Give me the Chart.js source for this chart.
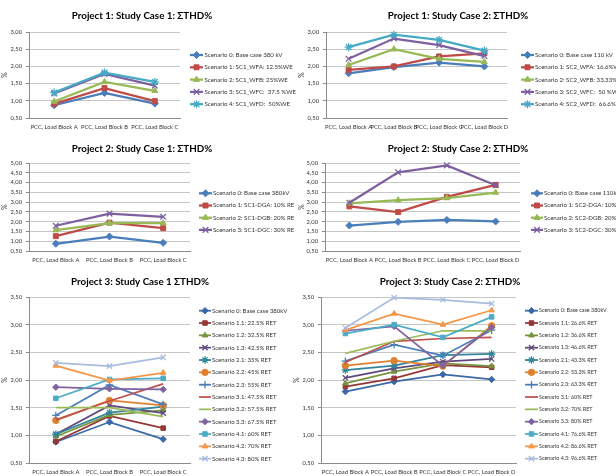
<!DOCTYPE html>
<html><head><meta charset="utf-8">
<script src="https://cdn.jsdelivr.net/npm/chart.js"></script>
<style>
html,body{margin:0;padding:0;background:#fff;width:616px;height:476px;overflow:hidden;position:relative}
canvas{position:absolute}
</style></head><body>
<script>
// ===== DATA =====
const catsABC  = ['PCC, Load Block A','PCC, Load Block B','PCC, Load Block C'];
const catsABCD = ['PCC, Load Block A','PCC, Load Block B','PCC, Load Block C','PCC, Load Block D'];

const yTicks1 = [0.5,1.0,1.5,2.0,2.5,3.0];
const yTicks2 = [0.5,1.0,1.5,2.0,2.5,3.0,3.5,4.0,4.5,5.0];
const yTicks3 = [0.5,1.0,1.5,2.0,2.5,3.0,3.5];

// Project 1, Study Case 1
const p1Title = 'Project 1: Study Case 1: ΣTHD%';
const p1Names = ['Scenario 0: Base case 380 kV','Scenario 1: SC1_WFA: 12.5%WE','Scenario 2: SC1_WFB: 25%WE','Scenario 3: SC1_WFC:  37.5 %WE','Scenario 4: SC1_WFD:  50%WE'];
const p1S0 = [0.87,1.23,0.92];
const p1S1 = [0.91,1.37,0.99];
const p1S2 = [0.98,1.55,1.29];
const p1S3 = [1.21,1.78,1.44];
const p1S4 = [1.24,1.82,1.55];

// Project 1, Study Case 2
const p2Title = 'Project 1: Study Case 2: ΣTHD%';
const p2Names = ['Scenario 0: Base case 110 kV','Scenario 1: SC2_WFA: 16.6%WE','Scenario 2: SC2_WFB: 33.33%WE','Scenario 3: SC2_WFC:  50 %WE','Scenario 4: SC2_WFD:  66.6%WE'];
const p2S0 = [1.80,1.98,2.11,2.00];
const p2S1 = [1.90,2.00,2.29,2.38];
const p2S2 = [2.04,2.50,2.22,2.13];
const p2S3 = [2.22,2.81,2.62,2.30];
const p2S4 = [2.56,2.92,2.77,2.46];

// Project 2, Study Case 1
const p3Title = 'Project 2: Study Case 1: ΣTHD%';
const p3Names = ['Scenario 0: Base case 380kV','Scenario 1: SC1-DGA: 10% RE','Scenario 2: SC1-DGB: 20% RE','Scenario 3: SC1-DGC: 30% RE'];
const p3S0 = [0.87,1.24,0.92];
const p3S1 = [1.26,1.95,1.67];
const p3S2 = [1.57,1.92,1.92];
const p3S3 = [1.79,2.41,2.25];

// Project 2, Study Case 2
const p4Title = 'Project 2: Study Case 2: ΣTHD%';
const p4Names = ['Scenario 0: Base case 110kV','Scenario 1: SC2-DGA: 10% RE','Scenario 2: SC2-DGB: 20% RE','Scenario 3: SC2-DGC: 30% RE'];
const p4S0 = [1.80,1.99,2.09,2.01];
const p4S1 = [2.78,2.49,3.27,3.88];
const p4S2 = [2.94,3.10,3.21,3.49];
const p4S3 = [2.97,4.52,4.88,3.86];

// Project 3, Study Case 1
const p5Title = 'Project 3: Study Case 1 ΣTHD%';
const p5Names = ['Scenario 0: Base case 380kV','Scenario 1.1: 22.5% RET','Scenario 1.2: 32.5% RET','Scenario 1.3: 42.5% RET','Scenario 2.1: 35% RET','Scenario 2.2: 45% RET','Scenario 2.3: 55% RET','Scenario 3.1: 47.5% RET','Scenario 3.2: 57.5% RET','Scenario 3.3: 67.5% RET','Scenario 4.1: 60% RET','Scenario 4.2: 70% RET','Scenario 4.3: 80% RET'];
const p5S0  = [0.88,1.24,0.93];
const p5S11 = [0.89,1.35,1.13];
const p5S12 = [0.98,1.37,1.45];
const p5S13 = [1.02,1.54,1.40];
const p5S21 = [1.02,1.41,1.52];
const p5S22 = [1.27,1.63,1.54];
const p5S23 = [1.36,1.91,1.56];
const p5S31 = [1.28,1.62,1.93];
const p5S32 = [1.50,1.50,1.34];
const p5S33 = [1.87,1.84,1.83];
const p5S41 = [1.67,2.01,2.03];
const p5S42 = [2.26,1.99,2.13];
const p5S43 = [2.31,2.25,2.41];

// Project 3, Study Case 2
const p6Title = 'Project 3: Study Case 2: ΣTHD%';
const p6Names = ['Scenario 0: Base case 380kV','Scenario 1.1: 26.6% RET','Scenario 1.2: 36.6% RET','Scenario 1.3: 46.6% RET','Scenario 2.1: 43.3% RET','Scenario 2.2: 53.3% RET','Scenario 2.3: 63.3% RET','Scenario 3.1: 60% RET','Scenario 3.2: 70% RET','Scenario 3.3: 80% RET','Scenario 4.1: 76.6% RET','Scenario 4.2: 86.6% RET','Scenario 4.3: 96.6% RET'];
const p6S0  = [1.79,1.97,2.10,2.01];
const p6S11 = [1.88,2.03,2.27,2.23];
const p6S12 = [1.94,2.15,2.30,2.25];
const p6S13 = [2.04,2.21,2.33,2.38];
const p6S21 = [2.18,2.26,2.45,2.47];
const p6S22 = [2.26,2.35,2.25,2.98];
const p6S23 = [2.34,2.64,2.44,2.90];
const p6S31 = [2.32,2.70,2.75,2.77];
const p6S32 = [2.48,2.70,2.89,2.89];
const p6S33 = [2.89,2.97,2.26,2.95];
const p6S41 = [2.84,3.00,2.77,3.14];
const p6S42 = [2.90,3.20,3.00,3.26];
const p6S43 = [2.94,3.49,3.45,3.38];

// ===== STYLE =====
const colors5 = ['#4A7EBB','#BE4B48','#98B954','#7D60A0','#46AAC5'];
const markers5 = ['rectRot','rect','triangle','crossRot','star'];
const colors13 = ['#3B68A6','#953735','#77933C','#5F497A','#31859C','#E0802F','#4A7EBB','#C0504D','#9BBB59','#7F63A1','#4BACC6','#F79646','#A9BCE0'];
const markers13 = ['rectRot','rect','triangle','crossRot','star','circle','cross',null,null,'rectRot','rect','triangle','crossRot'];

const FONT = 'Lato, "Open Sans", sans-serif';
const TITLE_SIZE = 9.8;
const SMALL = 5.8;
const GRID = '#C6C6C6';
const AXIS = '#8C8C8C';
const TXT = '#333333';

function sideLegend(L) {
  return {
    id: 'sideLegend',
    afterDraw(chart) {
      const ctx = chart.ctx;
      ctx.save();
      chart.data.datasets.forEach((ds, i) => {
        const y = L.y0 + i * L.dy, x = L.x;
        ctx.strokeStyle = ds.borderColor; ctx.lineWidth = ds.borderWidth;
        ctx.beginPath(); ctx.moveTo(x, y); ctx.lineTo(x + L.len, y); ctx.stroke();
        if (ds.pointRadius > 0) {
          ctx.fillStyle = ds.pointBackgroundColor; ctx.strokeStyle = ds.pointBorderColor;
          ctx.lineWidth = ds.pointBorderWidth;
          Chart.helpers.drawPoint(ctx, {pointStyle: ds.pointStyle, radius: ds.pointRadius, borderWidth: ds.pointBorderWidth, rotation: 0}, x + L.len / 2, y);
        }
        ctx.fillStyle = TXT; ctx.font = L.size + 'px ' + FONT;
        ctx.textBaseline = 'middle'; ctx.textAlign = 'left';
        ctx.fillText(ds.label, x + L.len + L.gap, y);
      });
      ctx.restore();
    }
  };
}

function fmt(v) { return v.toFixed(2).replace('.', ','); }

function makePanel(p) {
  const b = p.box;
  const cv = document.createElement('canvas');
  cv.width = b.w; cv.height = b.h;
  cv.style.left = b.x + 'px'; cv.style.top = b.y + 'px';
  cv.style.width = b.w + 'px'; cv.style.height = b.h + 'px';
  document.body.appendChild(cv);
  const lh = TITLE_SIZE * 1.2;
  const padTop = p.titleY - b.y - lh / 2;
  const padBot = (p.area.t - b.y) - padTop - lh;
  const yAxisW = p.area.l - b.x;
  const xAxisH = b.y + b.h - p.area.b;
  const rightW = b.x + b.w - p.area.r;
  const datasets = p.series.map((vals, i) => {
    const m = p.markers[i];
    const stroked = (m === 'crossRot' || m === 'cross' || m === 'star');
    return {
      label: p.names[i], data: vals, order: -i, clip: false,
      borderColor: p.colors[i], backgroundColor: p.colors[i],
      borderWidth: p.lw, tension: 0,
      pointStyle: m || 'circle', pointRadius: m ? (stroked ? p.pr + 0.5 : p.pr) : 0,
      pointBackgroundColor: p.colors[i], pointBorderColor: p.colors[i],
      pointBorderWidth: stroked ? 1.3 : 1
    };
  });
  const lg = p.legend;
  new Chart(cv, {
    type: 'line',
    data: { labels: p.cats, datasets },
    plugins: [sideLegend({x: lg.x - b.x, y0: lg.y0 - b.y, dy: lg.dy, len: lg.len, gap: lg.gap, size: lg.size})],
    options: {
      responsive: false, animation: false, devicePixelRatio: 1,
      layout: { padding: 0 },
      plugins: {
        legend: { display: false }, tooltip: { enabled: false },
        title: { display: true, text: p.title, color: '#000',
          font: { family: FONT, size: TITLE_SIZE, weight: 'bold', lineHeight: 1.2 },
          padding: { top: padTop, bottom: padBot } }
      },
      scales: {
        x: {
          type: 'category', offset: true,
          grid: { display: false, drawTicks: false },
          border: { display: true, color: AXIS, width: 1 },
          ticks: { font: { family: FONT, size: SMALL }, color: TXT, padding: p.xPad, maxRotation: 0, minRotation: 0, autoSkip: false },
          afterFit: s => { s.height = xAxisH; }
        },
        y: {
          type: 'linear', position: 'left',
          min: p.yTicks[0], max: p.yTicks[p.yTicks.length - 1],
          grid: { color: GRID, lineWidth: 1, tickLength: 3, tickColor: AXIS },
          border: { display: true, color: AXIS, width: 1 },
          ticks: { font: { family: FONT, size: SMALL }, color: TXT, padding: 4, autoSkip: false, callback: v => fmt(v) },
          afterBuildTicks: s => { s.ticks = p.yTicks.map(v => ({ value: v })); },
          title: { display: true, text: '%', color: TXT, font: { family: FONT, size: SMALL + 1 },
            padding: { top: p.yTitleX - b.x - (SMALL + 1) * 0.6, bottom: 0 } },
          afterFit: s => { s.width = yAxisW; }
        },
        pad: {
          type: 'linear', position: 'right', display: true,
          grid: { display: false, drawTicks: false }, border: { display: false },
          ticks: { display: false },
          afterFit: s => { s.width = rightW; }
        }
      }
    }
  });
}

makePanel({ title: p1Title, cats: catsABC, names: p1Names, series: [p1S0,p1S1,p1S2,p1S3,p1S4], yTicks: yTicks1,
  colors: colors5, markers: markers5, lw: 2.25, pr: 3.5,
  box: {x: -20, y: 0, w: 324, h: 138}, titleY: 16, area: {l: 29, t: 32, r: 180, b: 118}, xPad: 5.5, yTitleX: 5,
  legend: {x: 190, y0: 55, dy: 12.3, len: 13, gap: 1.5, size: 6.1} });

makePanel({ title: p2Title, cats: catsABCD, names: p2Names, series: [p2S0,p2S1,p2S2,p2S3,p2S4], yTicks: yTicks1,
  colors: colors5, markers: markers5, lw: 2.25, pr: 3.5,
  box: {x: 296, y: 0, w: 324, h: 138}, titleY: 16, area: {l: 326, t: 32, r: 507, b: 118}, xPad: 5.5, yTitleX: 302,
  legend: {x: 521, y0: 55, dy: 12.3, len: 13, gap: 1, size: 6.1} });

makePanel({ title: p3Title, cats: catsABC, names: p3Names, series: [p3S0,p3S1,p3S2,p3S3], yTicks: yTicks2,
  colors: colors5, markers: markers5, lw: 2.25, pr: 3.5,
  box: {x: -20, y: 134, w: 324, h: 138}, titleY: 149, area: {l: 29, t: 163, r: 190, b: 251}, xPad: 5.5, yTitleX: 5,
  legend: {x: 199, y0: 193.3, dy: 12.2, len: 13, gap: 1, size: 6.1} });

makePanel({ title: p4Title, cats: catsABCD, names: p4Names, series: [p4S0,p4S1,p4S2,p4S3], yTicks: yTicks2,
  colors: colors5, markers: markers5, lw: 2.25, pr: 3.5,
  box: {x: 296, y: 134, w: 324, h: 138}, titleY: 149, area: {l: 325, t: 163, r: 520, b: 251}, xPad: 5.5, yTitleX: 302,
  legend: {x: 531, y0: 193.3, dy: 12.2, len: 12, gap: 1, size: 6.1} });

makePanel({ title: p5Title, cats: catsABC, names: p5Names,
  series: [p5S0,p5S11,p5S12,p5S13,p5S21,p5S22,p5S23,p5S31,p5S32,p5S33,p5S41,p5S42,p5S43], yTicks: yTicks3,
  colors: colors13, markers: markers13, lw: 1.75, pr: 3.2,
  box: {x: -24, y: 268, w: 328, h: 208}, titleY: 282, area: {l: 29, t: 297, r: 190, b: 463}, xPad: 6, yTitleX: 5,
  legend: {x: 199, y0: 310.7, dy: 12.33, len: 12, gap: 1, size: 6.0} });

makePanel({ title: p6Title, cats: catsABCD, names: p6Names,
  series: [p6S0,p6S11,p6S12,p6S13,p6S21,p6S22,p6S23,p6S31,p6S32,p6S33,p6S41,p6S42,p6S43], yTicks: yTicks3,
  colors: colors13, markers: markers13, lw: 1.75, pr: 3.2,
  box: {x: 280, y: 268, w: 340, h: 208}, titleY: 282, area: {l: 321, t: 297, r: 516, b: 463}, xPad: 6, yTitleX: 297,
  legend: {x: 525, y0: 310.7, dy: 12.33, len: 13, gap: 1, size: 5.4} });
</script>
</body></html>
